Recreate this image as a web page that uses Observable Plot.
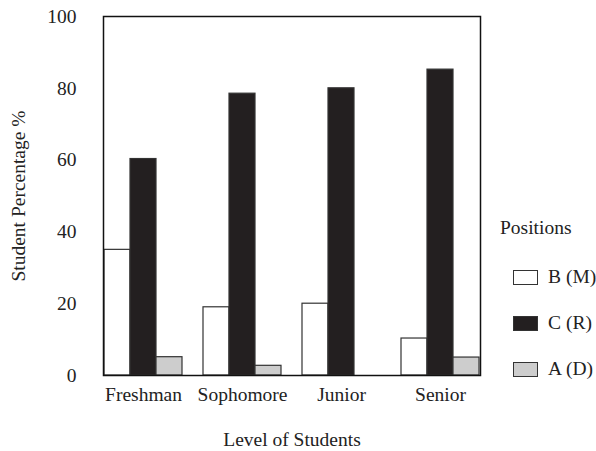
<!DOCTYPE html>
<html><head><meta charset="utf-8">
<script src="https://cdn.jsdelivr.net/npm/d3@7"></script>
<script src="https://cdn.jsdelivr.net/npm/@observablehq/plot@0.6"></script>
<style>
body{margin:0;background:#fff;}
#wrap{position:relative;width:596px;height:451px;font-family:"Liberation Serif","DejaVu Serif",serif;color:#222;}
#legend{position:absolute;left:500px;top:213px;font-size:19.5px;white-space:nowrap;width:96px;}
#legend .title{height:30px;line-height:30px;}
#legend .row{display:flex;align-items:center;height:24px;margin-top:22px;}
#legend .sw{flex:none;width:25px;height:15px;box-sizing:border-box;border:1.2px solid #333;margin-left:13px;margin-right:10px;}
</style></head><body><div id="wrap"></div>
<script>
const levels = ["Freshman", "Sophomore", "Junior", "Senior"];
const positions = ["B (M)", "C (R)", "A (D)"];
const valuesB = [35.0, 19.0, 20.0, 10.3];
const valuesC = [60.3, 78.5, 80.0, 85.2];
const valuesA = [5.1, 2.7, 0, 5.0];
const yTicks = [0, 20, 40, 60, 80, 100];
const colors = ["#ffffff", "#231f20", "#cdcdcd"];

const series = [valuesB, valuesC, valuesA];
const data = levels.flatMap((lv, i) => positions.map((p, j) => ({level: lv, pos: p, value: series[j][i]})));

const plot = Plot.plot({
  width: 596, height: 451,
  marginLeft: 82, marginRight: 94, marginTop: 16, marginBottom: 76,
  style: {fontFamily: "Liberation Serif, DejaVu Serif, serif", fontSize: "19.5px", color: "#222", background: "transparent"},
  fx: {domain: levels, paddingInner: 0.19, paddingOuter: 0.21, label: "Level of Students", labelAnchor: "center", tickSize: 0, tickPadding: 12, labelOffset: 70},
  x: {domain: positions, padding: 0, axis: null},
  y: {domain: [0, 100], ticks: yTicks, tickSize: 0, tickPadding: 27, label: "Student Percentage %", labelAnchor: "center", labelArrow: "none", labelOffset: 92},
  color: {domain: positions, range: colors},
  marks: [
    Plot.barY(data, {fx: "level", x: "pos", y: "value", fill: "pos", stroke: "#333", strokeWidth: 1.2, inset: 0}),
    Plot.frame({facet: "super", stroke: "#111", strokeWidth: 1.5})
  ]
});
const wrap = document.getElementById("wrap");
wrap.appendChild(plot);

const legend = document.createElement("div");
legend.id = "legend";
const t = document.createElement("div"); t.className = "title"; t.textContent = "Positions";
legend.appendChild(t);
positions.forEach((p, j) => {
  const row = document.createElement("div"); row.className = "row";
  const sw = document.createElement("div"); sw.className = "sw"; sw.style.background = colors[j];
  const lb = document.createElement("span"); lb.textContent = p;
  row.appendChild(sw); row.appendChild(lb); legend.appendChild(row);
});
wrap.appendChild(legend);
</script></body></html>
